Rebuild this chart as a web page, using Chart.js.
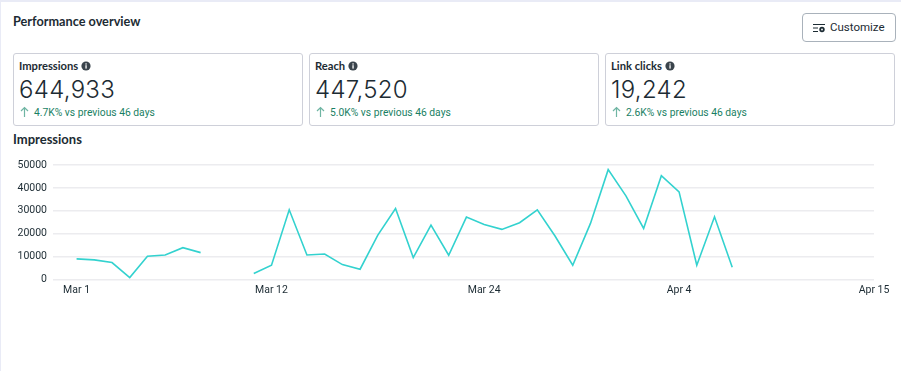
<!DOCTYPE html>
<html>
<head>
<meta charset="utf-8">
<script src="https://cdn.jsdelivr.net/npm/chart.js@4"></script>
<style>
    html, body { margin: 0; padding: 0; background: #fff; }
    body { width: 901px; height: 371px; position: relative; overflow: hidden; font-family: Lato, sans-serif; color: #1c2b33; }
    .edge-top { position: absolute; left: 0; top: 0; width: 901px; height: 2px; background: #e9ebf6; }
    .edge-left { position: absolute; left: 0; top: 0; width: 1px; height: 371px; background: #e9ebf6; }
    .title { position: absolute; left: 13px; top: 13px; font-size: 12.7px; font-weight: 700; line-height: 17px; }
    .btn { position: absolute; left: 802px; top: 13px; width: 92px; height: 27px; border: 1px solid #a9b2bb; border-radius: 4px; font-family: Roboto, sans-serif; font-size: 11.5px; line-height: 27px; }
    .btn span { position: absolute; left: 27px; }
    .btn svg { position: absolute; left: 10px; top: 8px; }
    .card { position: absolute; top: 53px; width: 288px; height: 71px; border: 1px solid #ced0d9; border-radius: 3px; }
    .card .name { position: absolute; left: 5px; top: 4px; font-size: 11.2px; font-weight: 700; line-height: 16px; white-space: nowrap; }
    .card .name svg { vertical-align: -1px; margin-left: 0; }
    .card .num { position: absolute; left: 5px; top: 20px; font-family: Inter, sans-serif; font-size: 24px; font-weight: 300; line-height: 32px; letter-spacing: 0.3px; }
    .card .delta { position: absolute; left: 20px; top: 51px; font-family: Roboto, sans-serif; font-size: 10.3px; line-height: 16px; color: #1a7f64; white-space: nowrap; }
    .card .arrow { position: absolute; left: 6px; top: 52px; }
    .sub { position: absolute; left: 13px; top: 131px; font-size: 13px; font-weight: 700; line-height: 17px; }
    #chartBox { position: absolute; left: 0; top: 130px; width: 901px; height: 175px; }
</style>
</head>
<body>
<div class="edge-top"></div>
<div class="edge-left"></div>
<div class="title">Performance overview</div>
<div class="btn">
    <svg width="14" height="12" viewBox="0 0 14 12"><path d="M0 2.5h12M0 6h5M0 9.5h5" stroke="#1c2b33" stroke-width="1" fill="none"/><circle cx="9" cy="7.5" r="2.7" fill="#1c2b33"/><circle cx="9" cy="7.5" r="0.9" fill="#fff"/></svg>
    <span>Customize</span>
</div>
<div id="cards"></div>
<div class="sub">Impressions</div>
<div id="chartBox"><canvas id="impressionsChart"></canvas></div>

<script>
    // summary cards
    const cardNames = ['Impressions', 'Reach', 'Link clicks'];
    const cardValues = ['644,933', '447,520', '19,242'];
    const cardDeltas = ['4.7K% vs previous 46 days', '5.0K% vs previous 46 days', '2.6K% vs previous 46 days'];
    const cardLefts = [13, 309, 605];

    // one entry per day from Mar 1, null where the line has a gap
    const dayIndex = [0, 11, 23, 34, 45];
    const tickLabels = ['Mar 1', 'Mar 12', 'Mar 24', 'Apr 4', 'Apr 15'];
    const impressions = [
        8990, 8550, 7390, 870, 10140, 10720, 13900, 11740, null, null,
        2600, 6230, 30430, 10720, 11160, 6520, 4490, 19400, 31000, 9560,
        23760, 10580, 27240, 24050, 21880, 24780, 30430, 18980, 6230, 24490,
        47960, 36500, 22300, 45350, 38250, 6230, 27390, 5360
    ];

    const infoIcon = '<svg width="10" height="10" viewBox="0 0 10 10"><circle cx="5" cy="5" r="4.6" fill="#3a444c"/><rect x="4.4" y="4.2" width="1.3" height="3.4" fill="#fff"/><rect x="4.4" y="2.3" width="1.3" height="1.3" fill="#fff"/></svg>';
    const upArrow = '<svg class="arrow" width="9" height="12" viewBox="0 0 9 12"><path d="M4.5 11V1.5M1 5l3.5-3.5L8 5" stroke="#6fb5a3" stroke-width="1.2" fill="none"/></svg>';

    let html = '';
    cardNames.forEach((name, i) => {
        html += '<div class="card" style="left:' + cardLefts[i] + 'px">'
            + '<div class="name">' + name + ' ' + infoIcon + '</div>'
            + '<div class="num">' + cardValues[i] + '</div>'
            + upArrow
            + '<div class="delta">' + cardDeltas[i] + '</div>'
            + '</div>';
    });
    document.getElementById('cards').innerHTML = html;

    const ctx = document.getElementById('impressionsChart').getContext('2d');
    new Chart(ctx, {
        type: 'line',
        data: {
            datasets: [{
                data: impressions.map((v, i) => ({ x: i, y: v })),
                borderColor: '#33d2cf',
                borderWidth: 1.6,
                pointRadius: 0,
                tension: 0,
                spanGaps: false
            }]
        },
        options: {
            responsive: true,
            maintainAspectRatio: false,
            animation: false,
            layout: { padding: { top: 35, right: 27, left: 0, bottom: 0 } },
            plugins: { legend: { display: false }, tooltip: { enabled: false } },
            scales: {
                x: {
                    type: 'linear',
                    min: -1.33,
                    max: 45,
                    grid: { display: false, drawTicks: false },
                    border: { display: false },
                    afterBuildTicks: axis => { axis.ticks = dayIndex.map(v => ({ value: v })); },
                    afterFit: axis => { axis.height = 25.5; },
                    ticks: {
                        autoSkip: false,
                        maxRotation: 0,
                        padding: 5,
                        color: '#1c2b33',
                        font: { family: 'Roboto', size: 10.5 },
                        callback: v => tickLabels[dayIndex.indexOf(v)]
                    }
                },
                y: {
                    min: 0,
                    max: 50000,
                    grid: { color: '#ececef', lineWidth: 1.5, drawTicks: false },
                    border: { display: false },
                    afterFit: axis => { axis.width = 53; },
                    ticks: {
                        stepSize: 10000,
                        padding: 6,
                        color: '#1c2b33',
                        font: { family: 'Roboto', size: 10.5 },
                        callback: v => String(v)
                    }
                }
            }
        }
    });
</script>
</body>
</html>
